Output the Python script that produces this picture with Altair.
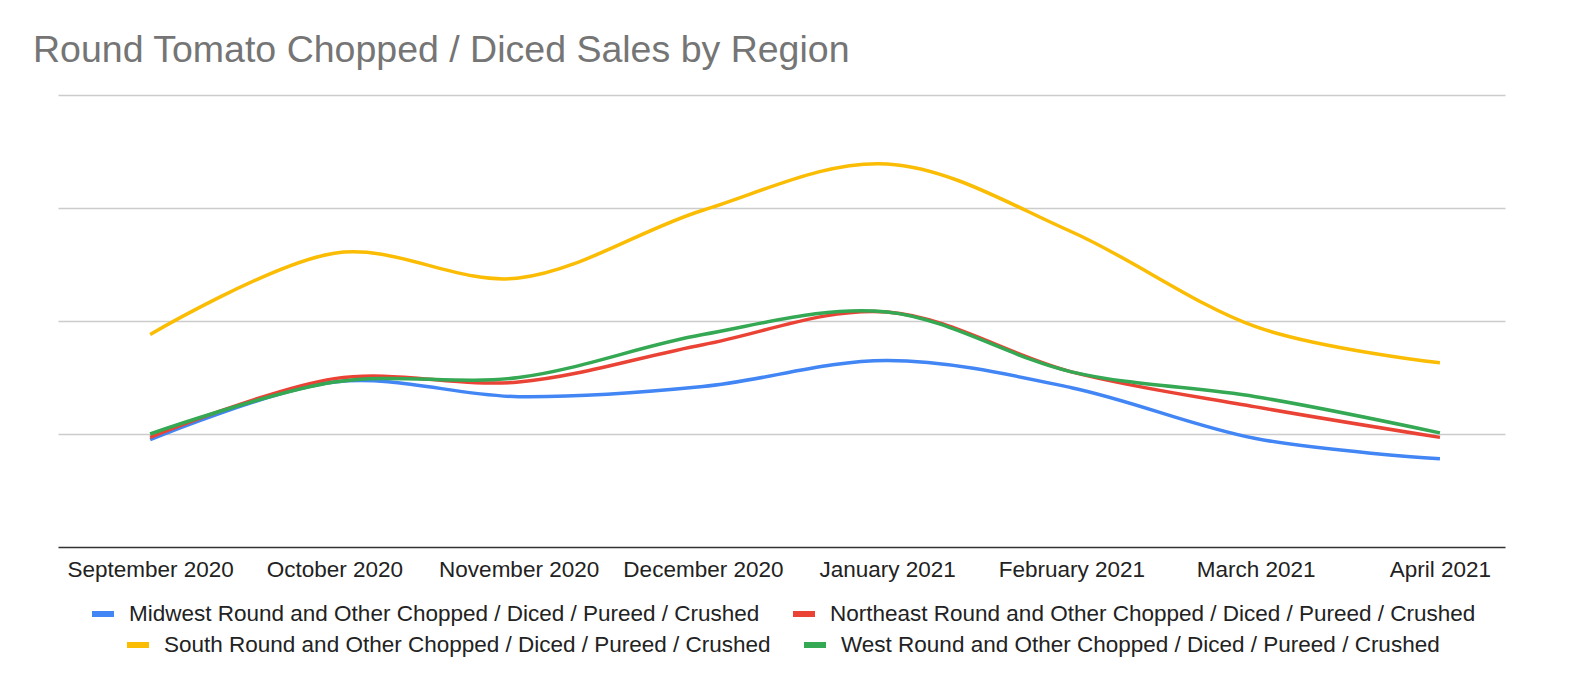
import altair as alt
import pandas as pd

months = ["September 2020", "October 2020", "November 2020", "December 2020",
          "January 2021", "February 2021", "March 2021", "April 2021"]

series_names = [
    "Midwest Round and Other Chopped / Diced / Pureed / Crushed",
    "Northeast Round and Other Chopped / Diced / Pureed / Crushed",
    "South Round and Other Chopped / Diced / Pureed / Crushed",
    "West Round and Other Chopped / Diced / Pureed / Crushed",
]

midwest = [0.95, 1.46, 1.33, 1.42, 1.65, 1.41, 0.96, 0.78]
northeast = [0.97, 1.49, 1.46, 1.79, 2.08, 1.55, 1.24, 0.97]
south = [1.88, 2.60, 2.38, 2.98, 3.39, 2.79, 1.95, 1.63]
west = [1.00, 1.46, 1.50, 1.88, 2.08, 1.55, 1.33, 1.01]

colors = ["#4285F4", "#EA4335", "#FBBC04", "#34A853"]

rows = []
for name, vals in zip(series_names, [midwest, northeast, south, west]):
    for i, (m, v) in enumerate(zip(months, vals)):
        rows.append({"series": name, "idx": i, "month": m, "value": v})
df = pd.DataFrame(rows)

label_expr = "[" + ",".join("'" + m + "'" for m in months) + "][datum.value]"

x_enc = alt.X(
    "idx:Q",
    scale=alt.Scale(domain=[-0.5, 7.353], nice=False, zero=False),
    axis=alt.Axis(
        values=list(range(len(months))),
        labelExpr=label_expr,
        title=None,
        grid=False,
        ticks=False,
        labelPadding=11,
        labelFontSize=22.5,
        labelColor="#222222",
        labelFont="Liberation Sans",
        domainColor="#333333",
        domainWidth=1.5,
        labelOverlap=False,
        labelFlush=False,
    ),
)
y_enc = alt.Y(
    "value:Q",
    scale=alt.Scale(domain=[0, 4], nice=False),
    axis=alt.Axis(
        values=[1, 2, 3, 4],
        labels=False,
        ticks=False,
        domain=False,
        title=None,
        grid=True,
        gridColor="#cccccc",
        gridWidth=1.5,
    ),
)


def legend(x, y):
    return alt.Legend(
        title=None,
        orient="none",
        direction="horizontal",
        legendX=x,
        legendY=y,
        symbolType="stroke",
        symbolSize=484,
        symbolStrokeWidth=6,
        labelFontSize=22.5,
        labelFont="Liberation Sans",
        labelColor="#222222",
        labelLimit=2000,
        labelOffset=12,
        columnPadding=21,
        padding=0,
    )


layer_a = alt.Chart(df[df.series.isin(series_names[:2])]).mark_line(
    interpolate="cardinal", strokeWidth=3.5
).encode(
    x=x_enc,
    y=y_enc,
    color=alt.Color(
        "series:N",
        scale=alt.Scale(domain=series_names[:2], range=colors[:2]),
        legend=legend(31, 505),
        sort=series_names[:2],
    ),
)

layer_b = alt.Chart(df[df.series.isin(series_names[2:])]).mark_line(
    interpolate="cardinal", strokeWidth=3.5
).encode(
    x=x_enc,
    y=y_enc,
    color=alt.Color(
        "series:N",
        scale=alt.Scale(domain=series_names[2:], range=colors[2:]),
        legend=legend(66, 536),
        sort=series_names[2:],
    ),
)

chart = alt.layer(layer_a, layer_b).resolve_scale(color="independent").properties(
    width=1447,
    height=452,
    background="white",
    autosize=alt.AutoSizeParams(type="none"),
    padding={"left": 50, "top": 87, "right": 50, "bottom": 130},
    title=alt.Title(
        "Round Tomato Chopped / Diced Sales by Region",
        anchor="start",
        dx=-25,
        offset=26,
        fontSize=37.5,
        font="Liberation Sans",
        fontWeight="normal",
        color="#757575",
    ),
).configure_view(stroke=None)

chart.save("out.html", embed_options={"renderer": "svg", "actions": False})
